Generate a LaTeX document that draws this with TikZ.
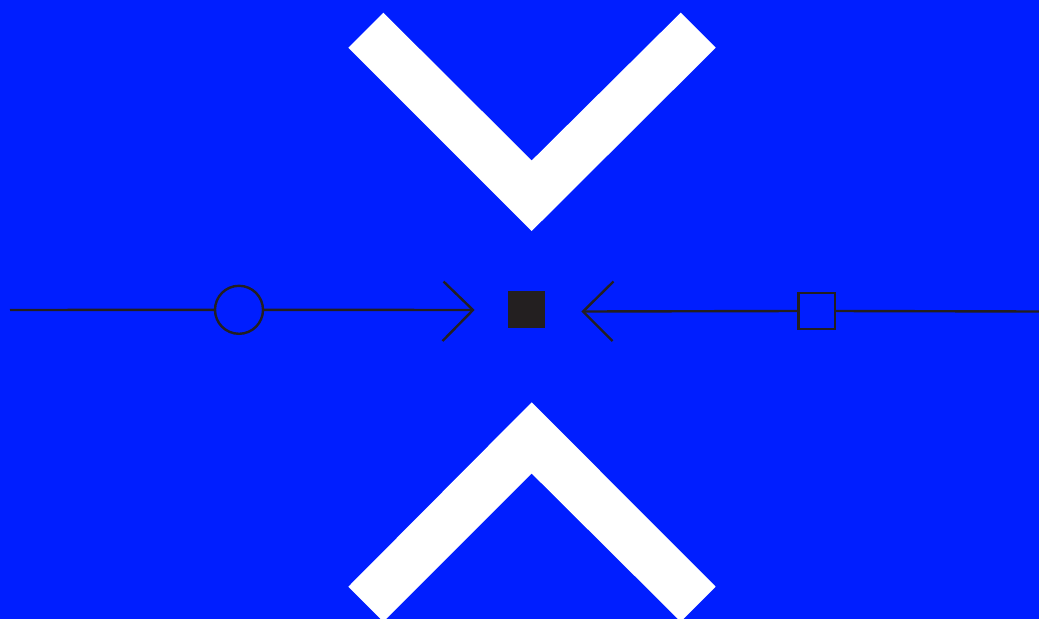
\documentclass[tikz,border=0pt]{standalone}
\definecolor{bgblue}{RGB}{0,30,255}
\definecolor{ink}{RGB}{35,31,32}
\begin{document}
\begin{tikzpicture}[x=1pt,y=-1pt,
  wire/.style={draw=ink,line width=2.4pt},
  ring/.style={circle,draw=ink,line width=2.4pt,minimum size=48pt,inner sep=0pt},
  box/.style={rectangle,draw=ink,line width=2.4pt,minimum size=36.5pt,inner sep=0pt},
  core/.style={rectangle,fill=ink,minimum size=37pt,inner sep=0pt},
  chev/.style={fill=white}]
\useasboundingbox (0,0) rectangle (1039,619);
\fill[bgblue] (0,0) rectangle (1039,619);
\begin{scope}
\clip (0,0) rectangle (1039,619);
% top chevron
\fill[chev] (383.3,12.7) -- (348.3,47.7) -- (531.7,231) -- (715.7,47.7) -- (680.7,12.7) -- (531.7,160.5) -- cycle;
% bottom chevron
\fill[chev] (531.7,402.3) -- (348.3,586.7) -- (383.3,621.7) -- (531.7,473.5) -- (680.7,621.7) -- (715.7,586.7) -- cycle;
\end{scope}
% center
\node[core] (c) at (526.3,309.3) {};
% left side
\coordinate (ls) at (10,310);
\node[ring] (o) at (239,309.8) {};
\coordinate (lt) at (473,310);
\coordinate (lw1) at (443.5,281.5);
\coordinate (lw2) at (442.5,341);
\draw[wire] (ls) -- (o.west);
\draw[wire] (o.east) -- (lt);
\draw[wire,line join=miter] (lw1) -- (lt) -- (lw2);
% right side
\coordinate (rs) at (1039,311.5);
\node[box] (s) at (816.7,311) {};
\coordinate (rt) at (583,311.5);
\coordinate (rw1) at (613.5,281.5);
\coordinate (rw2) at (612.5,341);
\draw[wire] (rs) -- (s.east);
\draw[wire] (s.west) -- (rt);
\draw[wire,line join=miter] (rw1) -- (rt) -- (rw2);
\end{tikzpicture}
\end{document}
